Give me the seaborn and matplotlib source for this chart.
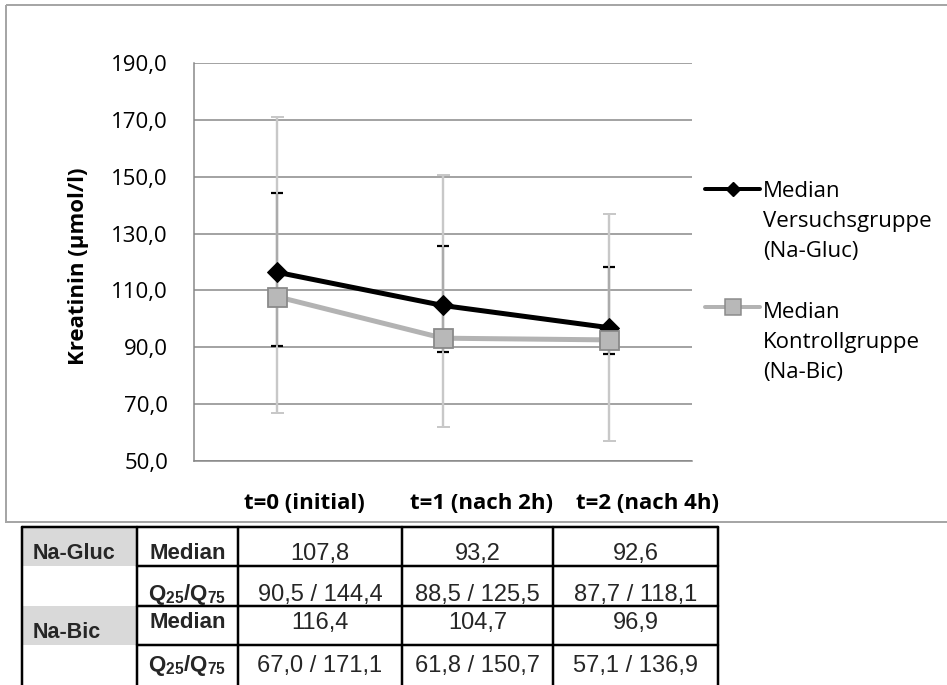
import numpy as np
import matplotlib
matplotlib.use("Agg")
import matplotlib.pyplot as plt
import matplotlib.transforms as mtransforms
import seaborn as sns
from matplotlib.path import Path
from matplotlib.lines import Line2D
from matplotlib.patches import Rectangle
from matplotlib.ticker import FuncFormatter

# ---------------- data ----------------
categories = ["t=0 (initial)", "t=1 (nach 2h)", "t=2 (nach 4h)"]
versuch_median = [116.4, 104.7, 96.9]
kontroll_median = [107.8, 93.2, 92.6]
versuch_q25 = [90.5, 88.5, 87.7]
versuch_q75 = [144.4, 125.5, 118.1]
kontroll_q25 = [67.0, 61.8, 57.1]
kontroll_q75 = [171.1, 150.7, 136.9]
y_ticks = [50, 70, 90, 110, 130, 150, 170, 190]
y_label = "Kreatinin (µmol/l)"
legend_labels = ["Median\nVersuchsgruppe\n(Na-Gluc)", "Median\nKontrollgruppe\n(Na-Bic)"]

table_groups = ["Na-Gluc", "", "Na-Bic", ""]
table_stats = ["Median", "Q$_{25}$/Q$_{75}$", "Median", "Q$_{25}$/Q$_{75}$"]
table_values = [["107,8", "93,2", "92,6"],
                ["90,5 / 144,4", "88,5 / 125,5", "87,7 / 118,1"],
                ["116,4", "104,7", "96,9"],
                ["67,0 / 171,1", "61,8 / 150,7", "57,1 / 136,9"]]

# ---------------- style ----------------
sns.set_theme(style="white")
plt.rcParams["font.family"] = ["Open Sans", "DejaVu Sans"]
plt.rcParams["mathtext.fontset"] = "custom"
plt.rcParams["mathtext.rm"] = "Liberation Sans:bold"
plt.rcParams["mathtext.bf"] = "Liberation Sans:bold"
plt.rcParams["mathtext.default"] = "bf"

W, H = 947, 685
fig = plt.figure(figsize=(W / 100, H / 100), dpi=100)
PX = 0.72  # points per pixel
FS = 16

# overlay axes in pixel coordinates
ov = fig.add_axes([0, 0, 1, 1])
ov.set_xlim(0, W)
ov.set_ylim(H, 0)
ov.axis("off")
ov.set_zorder(0)

# outer chart frame
ov.add_patch(Rectangle((5.5, 5), 960, 517, fill=False, edgecolor="#a6a6a6", lw=2 * PX))

# ---------------- main plot ----------------
ax = fig.add_axes([194 / W, 1 - 461 / H, 498 / W, 398 / H])
ax.set_facecolor("none")
ax.set_zorder(2)
x = np.arange(len(categories))

# grey error bars (Kontrollgruppe)
km = np.array(kontroll_median)
ax.errorbar(x, km, yerr=[km - np.array(kontroll_q25), np.array(kontroll_q75) - km],
            fmt="none", ecolor="#c8c8c8", elinewidth=2.4 * PX, capsize=6.5 * PX,
            capthick=2 * PX, zorder=2)
# darker inner segment + dashed black caps (Versuchsgruppe)
ax.vlines(x, versuch_q25, versuch_q75, color="#ababab", lw=2.4 * PX, zorder=2.5)
dash_cap = Path([(-1, 0), (-0.18, 0), (0.18, 0), (1, 0)],
                [Path.MOVETO, Path.LINETO, Path.MOVETO, Path.LINETO])
for q in (versuch_q25, versuch_q75):
    ax.plot(x, q, linestyle="none", marker=dash_cap, markersize=12.5 * PX,
            markeredgecolor="black", markerfacecolor="none", markeredgewidth=2.2 * PX,
            zorder=3)

sns.lineplot(x=x, y=versuch_median, ax=ax, color="black", lw=5 * PX, marker="D",
             markersize=14 * PX, markeredgecolor="black", markerfacecolor="black",
             markeredgewidth=1 * PX, zorder=4)
sns.lineplot(x=x, y=kontroll_median, ax=ax, color="#b3b3b3", lw=5 * PX, marker="s",
             markersize=19 * PX, markerfacecolor="#b8b8b8", markeredgecolor="#8a8a8a",
             markeredgewidth=1.8 * PX, zorder=5)

ax.set_xlim(-0.5, len(categories) - 0.5)
ax.set_ylim(y_ticks[0], y_ticks[-1])
ax.set_yticks(y_ticks)
ax.yaxis.set_major_formatter(FuncFormatter(lambda v, p: f"{v:.1f}".replace(".", ",")))
ax.set_xticks(x)
ax.set_xticklabels(categories, fontweight="bold")
ax.tick_params(axis="y", length=0, pad=26 * PX, labelsize=FS, labelcolor="black")
ax.tick_params(axis="x", length=0, pad=32 * PX, labelsize=FS, labelcolor="black")
# Excel places the category labels starting a little left of each category
shift = mtransforms.ScaledTranslation(-33 / 100, 0, fig.dpi_scale_trans)
for lab in ax.get_xticklabels():
    lab.set_horizontalalignment("left")
    lab.set_transform(lab.get_transform() + shift)
ax.grid(axis="y", color="#868686", lw=1.5 * PX)
ax.grid(axis="x", visible=False)
ax.set_axisbelow(True)
for s in ("top", "right"):
    ax.spines[s].set_visible(False)
for s in ("left", "bottom"):
    ax.spines[s].set_color("#868686")
    ax.spines[s].set_linewidth(1.5 * PX)
ax.set_xlabel("")
ax.set_ylabel(y_label, fontsize=FS, fontweight="bold", color="black")
ax.yaxis.set_label_coords((89 - 194) / 498, 0.49)

# ---------------- legend (drawn manually) ----------------
leg_y = [189, 307]
leg_base = [[197, 227, 257], [318, 348, 378]]
ov.add_line(Line2D([705, 732.5, 760], [leg_y[0]] * 3, color="black", lw=4 * PX,
                   marker="D", markersize=10 * PX, markevery=[1], zorder=3))
ov.add_line(Line2D([705, 732.5, 760], [leg_y[1]] * 3, color="#b3b3b3", lw=4 * PX,
                   marker="s", markersize=16 * PX, markevery=[1],
                   markerfacecolor="#b8b8b8", markeredgecolor="#8a8a8a",
                   markeredgewidth=1.5 * PX, zorder=3))
for lab, bases in zip(legend_labels, leg_base):
    for line, b in zip(lab.split("\n"), bases):
        ov.text(763, b, line, fontsize=FS, color="black", ha="left", va="baseline")

# ---------------- table ----------------
col_edges = [22, 137, 238, 402, 553, 718]
row_edges = [527, 566, 606, 645, 687]
for r, g in enumerate(table_groups):
    if g:
        ov.add_patch(Rectangle((col_edges[0], row_edges[r]), col_edges[1] - col_edges[0],
                               row_edges[r + 1] - row_edges[r], facecolor="#d9d9d9",
                               edgecolor="none", zorder=1))
tlw = 2.5 * PX
ov.plot([col_edges[0], col_edges[-1]], [row_edges[0]] * 2, color="black", lw=tlw, zorder=2)
for ry in row_edges[1:]:
    ov.plot([col_edges[1], col_edges[-1]], [ry] * 2, color="black", lw=tlw, zorder=2)
for cx in col_edges:
    ov.plot([cx, cx], [row_edges[0], row_edges[-1]], color="black", lw=tlw, zorder=2)

tfont = ["Liberation Sans", "DejaVu Sans"]
base_vals = [560, 601, 629, 672]
base_groups = [559, 0, 638, 0]
for r in range(len(table_stats)):
    if table_groups[r]:
        ov.text(33, base_groups[r], table_groups[r], family=tfont, fontsize=15.5,
                fontweight="bold", ha="left", va="baseline", zorder=3)
    ov.text((col_edges[1] + col_edges[2]) / 2, base_vals[r] - 1, table_stats[r],
            family=tfont, fontsize=16, fontweight="bold", ha="center", va="baseline", zorder=3)
    for c, v in enumerate(table_values[r]):
        ov.text((col_edges[c + 2] + col_edges[c + 3]) / 2, base_vals[r], v, family=tfont,
                fontsize=17, ha="center", va="baseline", zorder=3)

fig.savefig("out.png", dpi=100)
